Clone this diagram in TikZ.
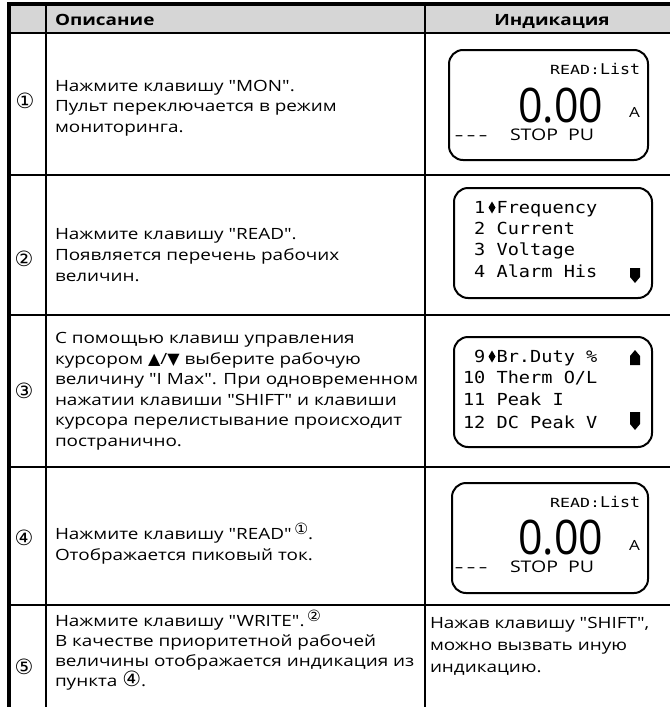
\documentclass[tikz,border=0pt]{standalone}
\usepackage{fontspec}
\usepackage{graphicx}
\setmainfont[FakeStretch=1.22,Ligatures=TeXOff]{Open Sans}
\newfontfamily\plainsans[Ligatures=TeXOff]{Open Sans}
\newfontfamily\monofont[FakeStretch=1.12,Ligatures=TeXOff]{DejaVu Sans Mono}
\newfontfamily\symfont{DejaVu Sans}
\definecolor{hdrgray}{HTML}{D6D6D6}
\newcommand\bodyfont{\fontsize{15.5}{19}\selectfont}
\newcommand\cnum[1]{{\symfont\fontsize{21}{21}\selectfont #1}}
\newcommand\supnum[1]{\raisebox{5pt}{\symfont\fontsize{15.5}{16}\selectfont #1}}
\newcommand\arrowsym[1]{{\symfont\fontsize{16}{16}\selectfont #1}}
\newcommand\lcddashes{\mbox{–}\hspace{4pt}\mbox{–}\hspace{4pt}\mbox{–}}
\tikzset{
  every node/.style={inner sep=0pt,outer sep=0pt},
  bodytxt/.style={anchor=base west,font=\bodyfont},
  hdrtxt/.style={anchor=base,font=\bodyfont\bfseries},
  numtxt/.style={anchor=center,font=\symfont\fontsize{21}{21}\selectfont},
  lcd/.style={draw,line width=2pt,rounded corners=14pt},
  lcdnum/.style={anchor=base east,font=\monofont\fontsize{16.6}{20}\selectfont},
  lcdword/.style={anchor=base west,font=\monofont\fontsize{16.6}{20}\selectfont},
  lcdhead/.style={anchor=base east,font=\monofont\fontsize{14.8}{16}\selectfont},
  lcdbig/.style={anchor=base east,font=\plainsans\fontsize{47.6}{50}\selectfont},
  lcdunit/.style={anchor=base east,font=\fontsize{14}{14}\selectfont},
  lcdstat/.style={anchor=base west,font=\fontsize{16}{16}\selectfont},
  lcddash/.style={anchor=base west,font=\plainsans\fontsize{16}{16}\selectfont},
  thickrule/.style={line width=3.5pt},
  rowrule/.style={line width=2.5pt},
  thinrule/.style={line width=1.5pt},
  colrule/.style={line width=2pt},
}
\begin{document}
\begin{tikzpicture}[x=1pt,y=-1pt]
\useasboundingbox (0,0) rectangle (670,707);
% header
\fill[hdrgray] (9,4) rectangle (670,33);
\node[hdrtxt,anchor=base west] (h1) at (55,25) {Описание};
\node[hdrtxt] (h2) at (552,25) {Индикация};
% rules
\draw[thinrule] (9,33) -- (670,33);
\foreach \yy in {175,315,467,605} \draw[rowrule] (9,\yy) -- (670,\yy);
\draw[thinrule] (46,4) -- (46,707);
\draw[colrule] (425,4) -- (425,707);
\draw[thickrule] (7.25,4) -- (670,4);
\draw[thickrule] (9,2.25) -- (9,707);
% numbers
\node[numtxt] (n1) at (25,101) {①};
\node[numtxt] (n2) at (24,259) {②};
\node[numtxt] (n3) at (24,391) {③};
\node[numtxt] (n4) at (24,537.5) {④};
\node[numtxt] (n5) at (24,667) {⑤};
% row 1 text
\node[bodytxt] (t11) at (55,91) {Нажмите клавишу "MON".};
\node[bodytxt] (t12) at (55,111.5) {Пульт переключается в режим};
\node[bodytxt] (t13) at (55,132) {мониторинга.};
% row 2 text
\node[bodytxt] (t21) at (55,239) {Нажмите клавишу "READ".};
\node[bodytxt] (t22) at (55,260) {Появляется перечень рабочих};
\node[bodytxt] (t23) at (55,281) {величин.};
% row 3 text
\node[bodytxt] (t31) at (55,343) {С помощью клавиш управления};
\node[bodytxt] (t32) at (55,364) {курсором \arrowsym{▲}/\arrowsym{▼} выберите рабочую};
\node[bodytxt] (t33) at (55,384.5) {величину "I Max". При одновременном};
\node[bodytxt] (t34) at (55,405) {нажатии клавиши "SHIFT" и клавиши};
\node[bodytxt] (t35) at (55,425.5) {курсора перелистывание происходит};
\node[bodytxt] (t36) at (55,446) {постранично.};
% row 4 text
\node[bodytxt] (t41) at (55,539) {Нажмите клавишу "READ"\,\supnum{①}.};
\node[bodytxt] (t42) at (55,560) {Отображается пиковый ток.};
% row 5 text
\node[bodytxt] (t51) at (55,626) {Нажмите клавишу "WRITE".\,\supnum{②}};
\node[bodytxt] (t52) at (55,646) {В качестве приоритетной рабочей};
\node[bodytxt] (t53) at (55,666) {величины отображается индикация из};
\node[bodytxt] (t54) at (55,686) {пункта \cnum{④}.};
\node[bodytxt] (t55) at (430,628) {Нажав клавишу "SHIFT",};
\node[bodytxt] (t56) at (430,650) {можно вызвать иную};
\node[bodytxt] (t57) at (430,672) {индикацию.};
% display 1
\draw[lcd] (449,50) rectangle (648,160);
\node[lcdhead] (r1) at (640,74) {\scalebox{1}[0.85]{READ:}List};
\node[lcdbig] (v1) at (603,122.5) {\scalebox{0.9}[1]{0.00}};
\node[lcdunit] (a1) at (640,117) {A};
\node[lcddash] (d1) at (455,140) {\lcddashes};
\node[lcdstat] (s1) at (510,140) {STOP};
\node[lcdstat] (p1) at (568,140) {PU};
% display 2
\draw[lcd] (454,188) rectangle (652,298);
\node[lcdnum] (m21) at (485.4,213) {1};
\node[lcdword] (w21) at (496.6,213) {Frequency};
\node[lcdnum] (m22) at (485.4,234) {2};
\node[lcdword] (w22) at (496.6,234) {Current};
\node[lcdnum] (m23) at (485.4,255.5) {3};
\node[lcdword] (w23) at (496.6,255.5) {Voltage};
\node[lcdnum] (m24) at (485.4,277.5) {4};
\node[lcdword] (w24) at (496.6,277.5) {Alarm His};
\fill (492,201.5) -- (495.5,207.5) -- (492,213.5) -- (488.5,207.5) -- cycle;
\fill (630,268) -- (640,268) -- (640,277) -- (635,283) -- (630,277) -- cycle;
% display 3
\draw[lcd] (454,337) rectangle (652,447);
\node[lcdnum] (m31) at (485.4,362) {9};
\node[lcdword] (w31) at (496.6,362) {Br.Duty \%};
\node[lcdnum] (m32) at (485.4,383) {10};
\node[lcdword] (w32) at (496.6,383) {Therm O/L};
\node[lcdnum] (m33) at (485.4,405) {11};
\node[lcdword] (w33) at (496.6,405) {Peak I};
\node[lcdnum] (m34) at (485.4,428) {12};
\node[lcdword] (w34) at (496.6,428) {DC Peak V};
\fill (492,350.5) -- (495.5,356.5) -- (492,362.5) -- (488.5,356.5) -- cycle;
\fill (635,350) -- (640,356) -- (640,365) -- (630,365) -- (630,356) -- cycle;
\fill (630,412) -- (640,412) -- (640,424) -- (635,430) -- (630,424) -- cycle;
% display 4
\draw[lcd] (452,483) rectangle (648,593);
\node[lcdhead] (r4) at (640,507) {\scalebox{1}[0.85]{READ:}List};
\node[lcdbig] (v4) at (603,554.5) {\scalebox{0.9}[1]{0.00}};
\node[lcdunit] (a4) at (640,550) {A};
\node[lcddash] (d4) at (455,572) {\lcddashes};
\node[lcdstat] (s4) at (510,572) {STOP};
\node[lcdstat] (p4) at (568,572) {PU};
\end{tikzpicture}
\end{document}
